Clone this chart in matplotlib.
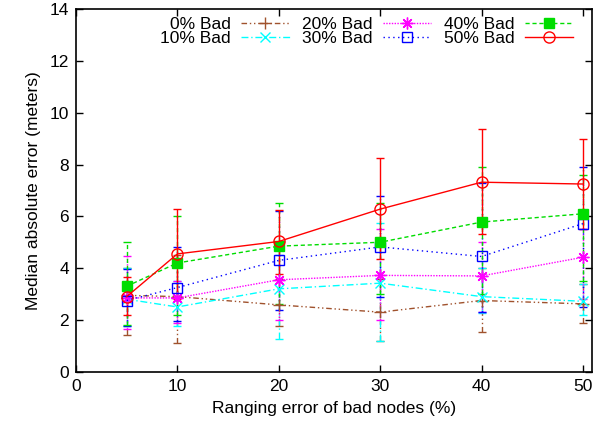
import matplotlib
matplotlib.use("Agg")
import matplotlib.pyplot as plt
from matplotlib.lines import Line2D

plt.rcParams['font.family'] = ['Liberation Sans', 'DejaVu Sans']

x = [5, 10, 20, 30, 40, 50]
labels = ["0% Bad", "10% Bad", "20% Bad", "30% Bad", "40% Bad", "50% Bad"]

bad0 = [2.95, 2.9, 2.58, 2.3, 2.75, 2.62]
bad0_lo = [1.4, 1.1, 1.75, 1.2, 1.55, 1.9]
bad0_hi = [4.0, 4.5, 3.6, 3.6, 4.0, 3.4]

bad10 = [2.8, 2.5, 3.2, 3.42, 2.9, 2.72]
bad10_lo = [1.75, 1.75, 1.25, 1.17, 2.25, 2.2]
bad10_hi = [4.0, 3.5, 4.5, 5.76, 4.0, 3.4]

bad20 = [2.85, 2.85, 3.55, 3.72, 3.7, 4.42]
bad20_lo = [1.65, 1.9, 2.0, 2.0, 2.3, 2.8]
bad20_hi = [4.45, 3.5, 5.0, 5.5, 5.0, 5.5]

bad30 = [2.75, 3.25, 4.3, 4.82, 4.45, 5.72]
bad30_lo = [1.75, 1.95, 2.4, 2.9, 2.3, 2.5]
bad30_hi = [3.95, 4.8, 6.2, 6.78, 7.3, 7.9]

bad40 = [3.3, 4.2, 4.85, 5.0, 5.78, 6.1]
bad40_lo = [1.8, 2.2, 2.6, 3.0, 3.0, 3.5]
bad40_hi = [5.0, 6.0, 6.52, 6.5, 7.89, 7.6]

bad50 = [2.9, 4.55, 5.03, 6.28, 7.32, 7.25]
bad50_lo = [2.2, 2.8, 3.79, 4.36, 5.3, 5.5]
bad50_hi = [3.65, 6.3, 6.26, 8.24, 9.36, 9.0]

series = [
    (bad0, bad0_lo, bad0_hi, '#a0522d', (0, (4, 2, 1, 2, 1, 2)), dict(marker='+', ms=8, mfc='none')),
    (bad10, bad10_lo, bad10_hi, '#00ffff', (0, (5, 2, 1, 2)), dict(marker='x', ms=7, mfc='none')),
    (bad20, bad20_lo, bad20_hi, '#ff00ff', (0, (1, 1)), dict(marker=(8, 2, 0), ms=8.5, mfc='none')),
    (bad30, bad30_lo, bad30_hi, '#0000ff', (0, (1, 2.5)), dict(marker='s', ms=7.5, mfc='none')),
    (bad40, bad40_lo, bad40_hi, '#00dd00', (0, (3, 2)), dict(marker='s', ms=7.5)),
    (bad50, bad50_lo, bad50_hi, '#ff0000', '-', dict(marker='o', ms=8, mfc='none')),
]

fig = plt.figure(figsize=(5.95, 4.30), dpi=100)
ax = fig.add_axes([0.1277, 0.1356, 0.8673, 0.8428])

handles = []
for (y, lo, hi, c, ls, mk), lab in zip(series, labels):
    yerr = [[v - l for v, l in zip(y, lo)], [h - v for v, h in zip(y, hi)]]
    cont = ax.errorbar(x, y, yerr=yerr, color=c, linestyle=ls, linewidth=1.0,
                       capsize=3, elinewidth=1.0, capthick=1.0,
                       mec=c, mew=1.0, **mk)
    for bl in cont[2]:
        bl.set_linestyle(ls)
    handles.append(Line2D([], [], color=c, linestyle=ls, linewidth=1.0,
                          mec=c, mew=1.0, **mk))

ax.set_xlim(0, 50.9)
ax.set_ylim(0, 14)
ax.set_xticks([0, 10, 20, 30, 40, 50])
ax.set_yticks(range(0, 15, 2))
ax.tick_params(direction='in', top=True, right=True, labelsize=12.5, length=5, width=1, pad=5)
ax.set_xlabel("Ranging error of bad nodes (%)", fontsize=12.5, labelpad=5)
ax.set_ylabel("Median absolute error (meters)", fontsize=12.5, labelpad=6)
for sp in ax.spines.values():
    sp.set_linewidth(1.2)

leg = ax.legend(handles=handles, labels=labels, ncol=3, loc='upper right',
                bbox_to_anchor=(0.977, 0.998),
                frameon=False, markerfirst=False, fontsize=12.5,
                handlelength=2.8, columnspacing=0.7, handletextpad=0.6,
                labelspacing=-0.05, borderaxespad=0.0, borderpad=0.4)

fig.savefig("out.png", dpi=100)
